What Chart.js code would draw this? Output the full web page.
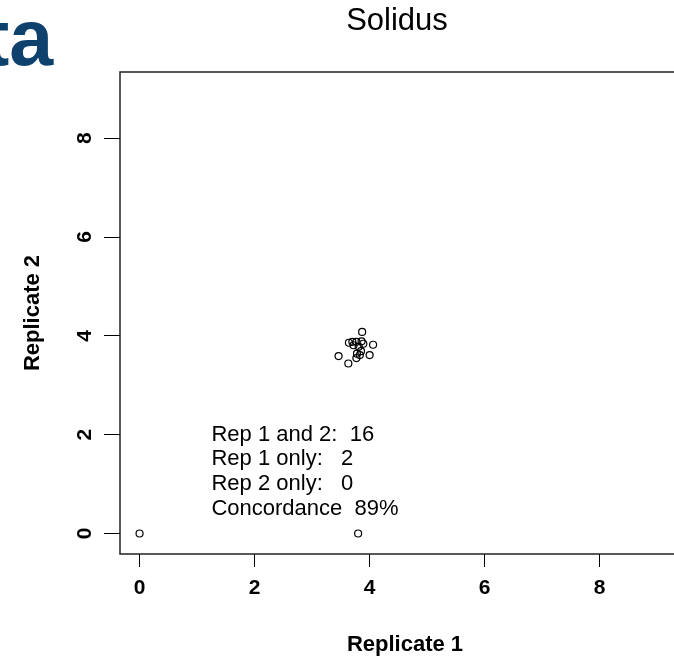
<html>

<head>
    <title>Solidus</title>
    <script src="https://cdn.jsdelivr.net/npm/chart.js@4.4.1/dist/chart.umd.min.js"></script>
    <style>
        body { margin: 0; overflow: hidden; background: #fff; }
        canvas { display: block; }
    </style>
</head>

<body>
    <canvas id="plotCanvas" width="700" height="660"></canvas>
    <script>
        // ========= data ===============================
        const rep1 = [0, 3.8, 3.87, 4.06, 3.64, 3.46, 3.63, 4.0, 3.77, 3.86, 3.89, 3.72, 3.78, 3.83, 3.77, 3.85, 3.81, 3.7]
        const rep2 = [0, 0, 4.08, 3.82, 3.86, 3.59, 3.44, 3.61, 3.88, 3.89, 3.84, 3.81, 3.64, 3.61, 3.55, 3.69, 3.78, 3.88]
        const xTicks = [0, 2, 4, 6, 8]
        const yTicks = [0, 2, 4, 6, 8]
        const notes = ['Rep 1 and 2:  16', 'Rep 1 only:   2', 'Rep 2 only:   0', 'Concordance  89%']
        const noteX = 1.25
        const noteY = [2, 1.5, 1, 0.5]

        const font = 'Liberation Sans, Arial, sans-serif'

        // =========== extra drawing: box, title, notes ===========
        const decor = {
            id: 'decor',
            afterDraw(chart) {
                const { ctx, chartArea: a, scales } = chart
                ctx.save()
                ctx.strokeStyle = '#222'
                ctx.lineWidth = 1.5
                ctx.strokeRect(a.left, a.top, a.right - a.left, a.bottom - a.top)

                ctx.fillStyle = '#000'
                ctx.font = '31px ' + font
                ctx.textAlign = 'center'
                ctx.textBaseline = 'middle'
                ctx.fillText('Solidus', 397, 21)

                ctx.font = '22px ' + font
                ctx.textAlign = 'left'
                notes.forEach((t, i) => {
                    ctx.fillText(t, scales.x.getPixelForValue(noteX), scales.y.getPixelForValue(noteY[i]))
                })

                // cut-off slide heading in the corner
                ctx.fillStyle = '#0f416d'
                ctx.font = 'bold 79px ' + font
                ctx.textBaseline = 'alphabetic'
                ctx.fillText('ta', -17, 65)
                ctx.restore()
            },
        }

        const chart = new Chart(document.getElementById('plotCanvas'), {
            type: 'scatter',
            data: {
                datasets: [
                    {
                        data: rep1.map((x, i) => ({ x, y: rep2[i] })),
                        pointStyle: 'circle',
                        pointRadius: 3.5,
                        pointBorderWidth: 1.2,
                        borderColor: '#000',
                        backgroundColor: 'rgba(0,0,0,0)',
                    },
                ],
            },
            options: {
                responsive: false,
                animation: false,
                devicePixelRatio: 1,
                layout: { padding: { top: 72, right: 10, left: 0, bottom: 0 } },
                plugins: { legend: { display: false }, tooltip: { enabled: false } },
                scales: {
                    x: {
                        type: 'linear',
                        min: -0.34,
                        max: 9.57,
                        afterBuildTicks: s => { s.ticks = xTicks.map(v => ({ value: v })) },
                        afterFit: s => { s.height = 106 },
                        border: { display: false },
                        grid: { drawOnChartArea: false, drawTicks: true, tickLength: 13, color: '#000' },
                        ticks: { color: '#000', padding: 9, font: { family: font, size: 21, weight: 'bold' } },
                        title: {
                            display: true,
                            text: 'Replicate 1',
                            color: '#000',
                            padding: { bottom: 2 },
                            font: { family: font, size: 22, weight: 'bold' },
                        },
                    },
                    y: {
                        type: 'linear',
                        min: -0.415,
                        max: 9.34,
                        afterBuildTicks: s => { s.ticks = yTicks.map(v => ({ value: v })) },
                        afterFit: s => { s.width = 120 },
                        border: { display: false },
                        grid: { drawOnChartArea: false, drawTicks: true, tickLength: 16, color: '#000' },
                        ticks: {
                            color: '#000',
                            padding: 13,
                            minRotation: 90,
                            maxRotation: 90,
                            crossAlign: 'center',
                            font: { family: font, size: 21, weight: 'bold' },
                        },
                        title: {
                            display: true,
                            text: 'Replicate 2',
                            color: '#000',
                            padding: { top: 20 },
                            font: { family: font, size: 22, weight: 'bold' },
                        },
                    },
                },
            },
            plugins: [decor],
        })
    </script>
</body>

</html>
